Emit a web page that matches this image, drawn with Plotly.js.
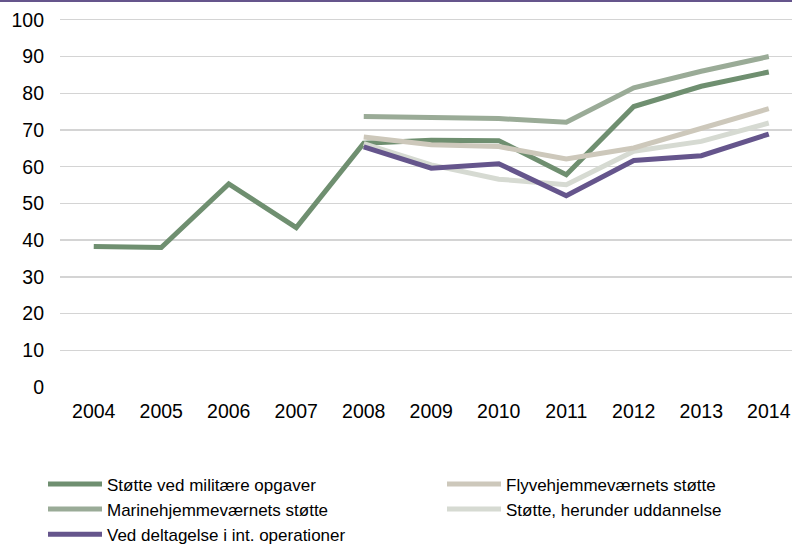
<!DOCTYPE html>
<html>
<head>
<meta charset="utf-8">
<script src="https://cdn.plot.ly/plotly-3.0.1.min.js"></script>
<style>
  html, body { margin: 0; padding: 0; background: #fff; }
  #chart { width: 792px; height: 546px; }
  #topbar { position: absolute; left: 0; top: 0; width: 792px; height: 2px; background: #65558c; z-index: 10; }
</style>
</head>
<body>
<div id="topbar"></div>
<div id="chart"></div>
<script>
const years = ['2004','2005','2006','2007','2008','2009','2010','2011','2012','2013','2014'];

const militaere   = [38.3, 38.0, 55.3, 43.4, 66.4, 67.2, 67.1, 57.8, 76.4, 81.9, 85.8];
const marine      = [null, null, null, null, 73.7, 73.5, 73.1, 72.1, 81.5, 86.0, 90.0];
const uddannelse  = [null, null, null, null, 66.3, 60.5, 56.6, 55.1, 64.2, 66.9, 71.9];
const flyve       = [null, null, null, null, 68.1, 66.0, 65.5, 62.1, 65.1, 70.5, 75.8];
const deltagelse  = [null, null, null, null, 65.4, 59.6, 60.8, 52.1, 61.7, 63.0, 68.9];

const names = {
  militaere: 'Støtte ved militære opgaver',
  marine: 'Marinehjemmeværnets støtte',
  deltagelse: 'Ved deltagelse i int. operationer',
  flyve: 'Flyvehjemmeværnets støtte',
  uddannelse: 'Støtte, herunder uddannelse'
};

const yTicks = [0,10,20,30,40,50,60,70,80,90,100];

function tr(y, name, color, legend, rank) {
  return {
    x: years, y: y, name: name, type: 'scatter', mode: 'lines',
    line: { color: color, width: 5 },
    connectgaps: false, legend: legend, legendrank: rank,
    hoverinfo: 'skip'
  };
}

const data = [
  tr(militaere, names.militaere, '#6f8f70', 'legend', 1),
  tr(marine, names.marine, '#9aab97', 'legend', 2),
  tr(uddannelse, names.uddannelse, '#d6dad2', 'legend2', 2),
  tr(flyve, names.flyve, '#cdc8bb', 'legend2', 1),
  tr(deltagelse, names.deltagelse, '#65558c', 'legend', 3)
];

const fam = 'Liberation Sans, Arial, sans-serif';
const legendY = -(466.0 - 386.7) / 368.5;

const layout = {
  width: 792, height: 546,
  margin: { l: 60, r: 0, t: 18.2, b: 159.3, pad: 0, autoexpand: false },
  paper_bgcolor: '#fff', plot_bgcolor: '#fff',
  font: { family: fam, size: 17, color: '#000' },
  showlegend: true,
  xaxis: {
    type: 'category', range: [-0.5, 10.344],
    showgrid: false, zeroline: false, showline: false,
    ticks: '', tickfont: { size: 19.5, family: fam, color: '#000' },
    ticklabelstandoff: 10, fixedrange: true
  },
  yaxis: {
    range: [0, 100.5], tickvals: yTicks, ticktext: yTicks.map(String),
    showgrid: true, gridcolor: '#d4d4d4', gridwidth: 1.3,
    zeroline: false, showline: false, ticks: '',
    tickfont: { size: 19.5, family: fam, color: '#000' },
    ticklabelstandoff: 15, fixedrange: true
  },
  legend: {
    orientation: 'v', x: (43 - 60) / 732, xanchor: 'left',
    y: legendY, yanchor: 'top',
    itemwidth: 54, font: { size: 17, family: fam, color: '#000' },
    bgcolor: 'rgba(0,0,0,0)', borderwidth: 0, tracegroupgap: 0
  },
  legend2: {
    orientation: 'v', x: (442 - 60) / 732, xanchor: 'left',
    y: legendY, yanchor: 'top',
    itemwidth: 54, font: { size: 17, family: fam, color: '#000' },
    bgcolor: 'rgba(0,0,0,0)', borderwidth: 0, tracegroupgap: 0
  }
};

Plotly.newPlot('chart', data, layout, { displayModeBar: false, staticPlot: true });
</script>
</body>
</html>
